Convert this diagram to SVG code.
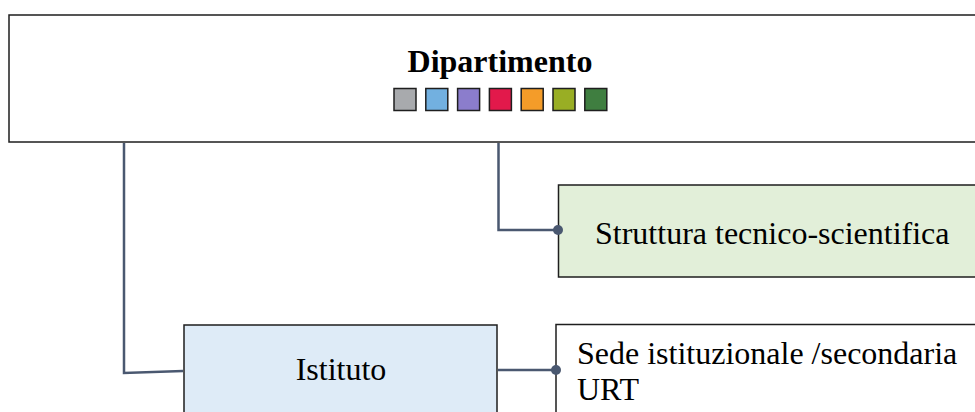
<svg xmlns="http://www.w3.org/2000/svg" width="975" height="412" viewBox="0 0 975 412">
<style>
.box{stroke:#1e1e1e;stroke-width:1.5}
.t{font-family:"Liberation Serif","Times New Roman",serif;font-size:32px;fill:#000}
.b{font-weight:bold}
.c{fill:none;stroke:#4a5870;stroke-width:2.5}
.dot{fill:#4a5870}
.sq{stroke:#1e1e1e;stroke-width:1.5}
</style>
<rect width="975" height="412" fill="#fff"/>
<g id="dipartimento">
<rect class="box" x="9" y="15" width="980" height="127" fill="#fff"/>
<text class="t b" x="500" y="72" text-anchor="middle">Dipartimento</text>
<rect class="sq" x="394" y="88.5" width="22" height="22" fill="#a8aaad"/>
<rect class="sq" x="425.8" y="88.5" width="22" height="22" fill="#72b0e0"/>
<rect class="sq" x="457.6" y="88.5" width="22" height="22" fill="#8b7dcc"/>
<rect class="sq" x="489.4" y="88.5" width="22" height="22" fill="#e2194b"/>
<rect class="sq" x="521.2" y="88.5" width="22" height="22" fill="#f49c29"/>
<rect class="sq" x="553" y="88.5" width="22" height="22" fill="#99ae24"/>
<rect class="sq" x="584.8" y="88.5" width="22" height="22" fill="#3f7e40"/>
</g>
<g id="struttura">
<rect class="box" x="558.5" y="185" width="430" height="92" fill="#e2efd9"/>
<text class="t" x="595" y="244">Struttura tecnico-scientifica</text>
</g>
<g id="istituto">
<rect class="box" x="184" y="325" width="313" height="100" fill="#deebf7"/>
<text class="t" x="341" y="380" text-anchor="middle">Istituto</text>
</g>
<g id="sede">
<rect class="box" x="556" y="324.5" width="430" height="100" fill="#fff"/>
<text class="t" x="577" y="364">Sede istituzionale /secondaria</text>
<text class="t" x="577" y="400">URT</text>
</g>
<g id="connectors">
<polyline class="c" points="124,143 124,373 183,371"/>
<polyline class="c" points="498.5,143 498.5,230 558,230"/>
<circle class="dot" cx="558" cy="230" r="5"/>
<line class="c" x1="498" y1="370" x2="556" y2="370"/>
<circle class="dot" cx="556" cy="370" r="5"/>
</g>
</svg>
